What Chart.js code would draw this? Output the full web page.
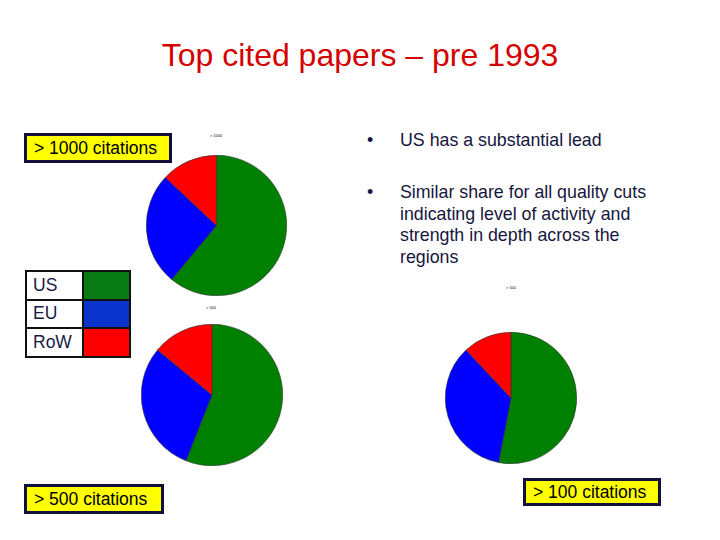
<!DOCTYPE html>
<html>
<head>
<meta charset="utf-8">
<script src="https://cdn.jsdelivr.net/npm/chart.js@4.4.0/dist/chart.umd.min.js"></script>
<style>
    body { margin: 0; background: #fff; font-family: "Liberation Sans", Arial, sans-serif; }
    #slide { position: relative; width: 720px; height: 540px; overflow: hidden; }
    .abs { position: absolute; }
    .title { left: 0; width: 720px; top: 37px; text-align: center; font-size: 32px; color: #d40000; }
    .tag { background: #ffff00; border: 3px solid #10103a; font-size: 17.5px; color: #000;
           box-sizing: border-box; line-height: 24px; padding-left: 7px; }
    .mini { font-size: 4px; color: #000; transform: translateX(-50%); }
    .bullets { left: 367px; top: 130px; width: 300px; font-size: 17.8px; color: #16163e; line-height: 21.7px; }
    .bullets .b { position: absolute; left: 0; }
    .bullets .t { position: absolute; left: 33px; width: 280px; }
    table.legend { border-collapse: collapse; left: 25px; top: 270px; }
    table.legend td { border: 2px solid #111; padding: 0; font-size: 17.5px; color: #1a1a45; }
    table.legend td.lbl { width: 49px; padding-left: 6px; background: #fff; }
    table.legend td.sw { width: 45px; }
</style>
</head>
<body>
<div id="slide">
    <div class="abs title">Top cited papers – pre 1993</div>

    <div class="abs tag" style="left:24px; top:133px; width:148px; height:30px;">&gt; 1000 citations</div>
    <div class="abs tag" style="left:24px; top:484px; width:140px; height:30px;">&gt; 500 citations</div>
    <div class="abs tag" style="left:523px; top:478px; width:138px; height:28px; line-height:22px;">&gt; 100 citations</div>

    <table class="abs legend" id="legendTable"></table>

    <div class="abs bullets">
        <div class="b" style="top:0px;">•</div>
        <div class="t" style="top:0px;">US has a substantial lead</div>
        <div class="b" style="top:52px;">•</div>
        <div class="t" style="top:52px;">Similar share for all quality cuts indicating level of activity and strength in depth across the regions</div>
    </div>

    <div class="abs mini" style="left:216px; top:133px;">&gt; 1000</div>
    <div class="abs mini" style="left:211px; top:305px;">&gt; 500</div>
    <div class="abs mini" style="left:511px; top:285px;">&gt; 100</div>

    <div class="abs" style="left:146px; top:155px; width:141px; height:141px;"><canvas id="pie1000"></canvas></div>
    <div class="abs" style="left:141px; top:324px; width:142px; height:142px;"><canvas id="pie500"></canvas></div>
    <div class="abs" style="left:445px; top:332px; width:132px; height:132px;"><canvas id="pie100"></canvas></div>
</div>

<script>
// regions and their share of top cited papers (%)
const regions = ['US', 'EU', 'RoW'];
const share1000 = [61, 26, 13];
const share500 = [56, 30, 14];
const share100 = [53, 35, 12];

const pieColors = ['#008000', '#0000ff', '#ff0000'];
const legendColors = ['#087a16', '#0a33cc', '#ff0000'];

// legend table
const legendTable = document.getElementById('legendTable');
regions.forEach(function (name, i) {
    const row = legendTable.insertRow();
    row.style.height = '28.5px';
    const lbl = row.insertCell();
    lbl.className = 'lbl';
    lbl.textContent = name;
    const sw = row.insertCell();
    sw.className = 'sw';
    sw.style.background = legendColors[i];
});

function drawPie(canvasId, values) {
    const ctx = document.getElementById(canvasId).getContext('2d');
    return new Chart(ctx, {
        type: 'pie',
        data: {
            labels: regions,
            datasets: [{
                data: values,
                backgroundColor: pieColors,
                borderColor: '#333',
                borderWidth: 0.6
            }]
        },
        options: {
            responsive: true,
            maintainAspectRatio: false,
            animation: false,
            layout: { padding: 0 },
            plugins: {
                legend: { display: false },
                tooltip: { enabled: false }
            }
        }
    });
}

drawPie('pie1000', share1000);
drawPie('pie500', share500);
drawPie('pie100', share100);
</script>
</body>
</html>
